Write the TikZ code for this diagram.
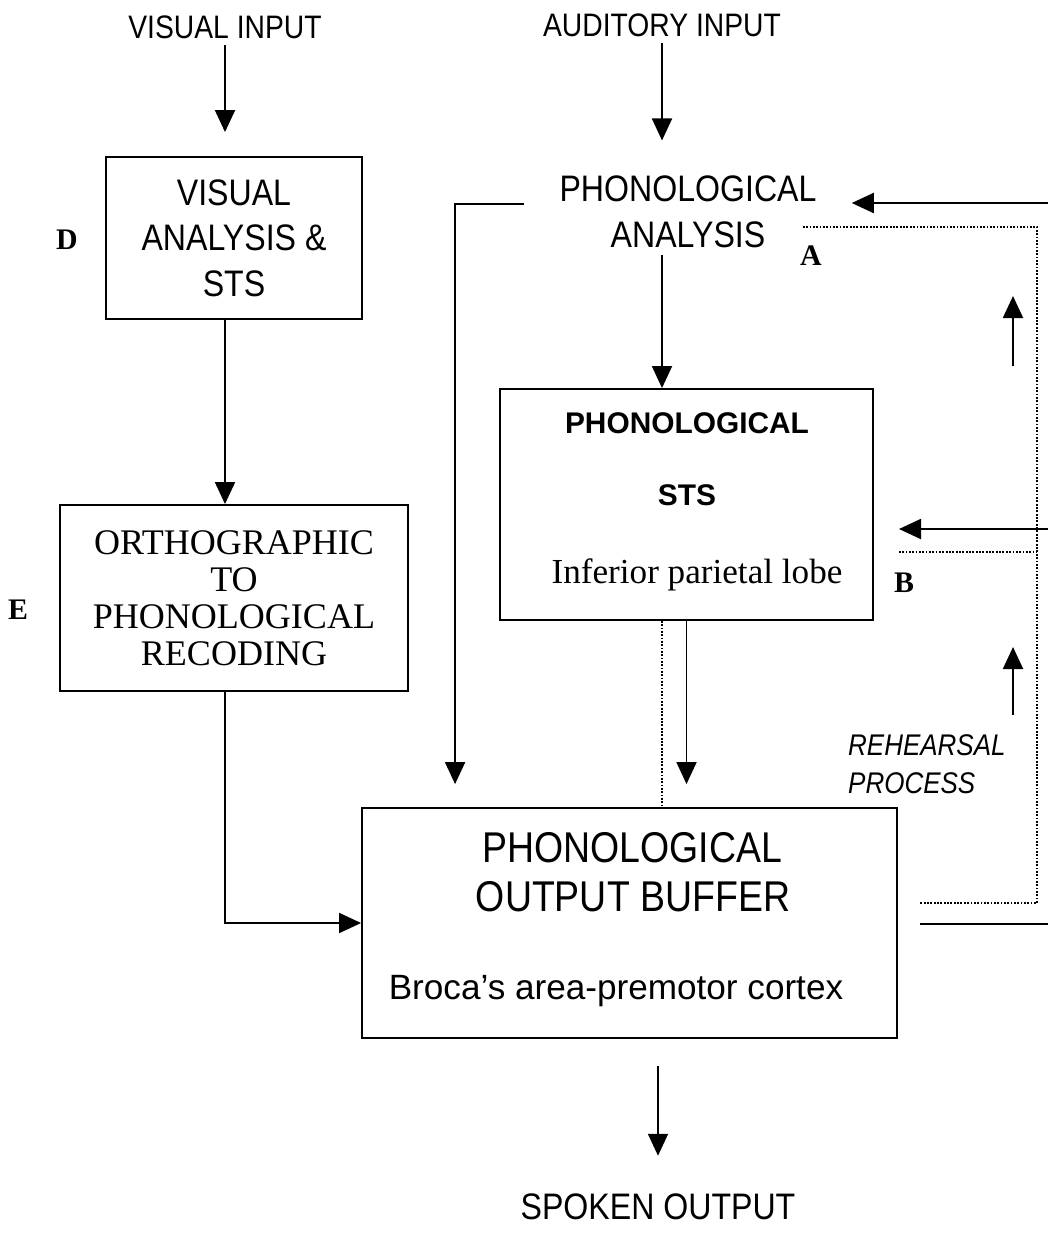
\documentclass[tikz,border=0pt]{standalone}
\usepackage{fontspec}
\setmainfont{Liberation Serif}
\newfontfamily\narrowsf[FakeStretch=0.87]{Liberation Sans}
\newfontfamily\plainsf{Liberation Sans}
\usetikzlibrary{arrows.meta,positioning}

\tikzset{
  arr/.style={-{Triangle[width=0.4cm,length=0.44cm]}, line width=1.1pt},
  dotline/.style={line width=1pt, dash pattern=on 1pt off 0.9pt},
  block/.style={draw, line width=1.1pt, align=center, inner sep=0pt},
  lbl/.style={font=\fontsize{18.5}{22}\narrowsf},
  letter/.style={font=\fontsize{17}{20}\selectfont\bfseries}
}

\begin{document}
\begin{tikzpicture}[x=0.02cm, y=-0.02cm]
    \useasboundingbox (0,0) rectangle (1048,1234);

    % Inputs
    \node[lbl] (visin) at (225,27) {VISUAL INPUT};
    \node[lbl] (audin) at (662,25) {AUDITORY INPUT};

    % Visual route
    \node[block, minimum width=5.12cm, minimum height=3.24cm,
          font=\fontsize{21}{26}\narrowsf] (visbox) at (234,238) {VISUAL\\ANALYSIS \&\\STS};
    \node[letter] (labD) at (67,240) {D};
    \node[block, minimum width=6.96cm, minimum height=3.72cm,
          font=\fontsize{20.5}{21}\selectfont] (orthobox) at (234,598) {ORTHOGRAPHIC\\TO\\PHONOLOGICAL\\RECODING};
    \node[letter] (labE) at (18,610) {E};

    % Auditory route
    \node[font=\fontsize{21}{26.5}\narrowsf, align=center, inner xsep=0.7cm] (phonan) at (688,212) {PHONOLOGICAL\\ANALYSIS};
    \node[letter] (labA) at (811,256) {A};

    \node[block, minimum width=7.46cm, minimum height=4.62cm] (stsbox) at (686.5,504.5) {};
    \node[font=\fontsize{17}{20}\plainsf\bfseries, anchor=base] (ststa) at (687,433) {PHONOLOGICAL};
    \node[font=\fontsize{17}{20}\plainsf\bfseries, anchor=base] (ststb) at (687,505) {STS};
    \node[font=\fontsize{20}{24}\selectfont, anchor=base] (ststc) at (697,583) {Inferior parietal lobe};
    \node[letter] (labB) at (904,583) {B};

    % Output buffer
    \node[block, minimum width=10.7cm, minimum height=4.6cm] (buffer) at (629.5,923) {};
    \node[font=\fontsize{24.5}{28}\narrowsf, anchor=base] (bufa) at (632,862) {PHONOLOGICAL};
    \node[font=\fontsize{24.5}{28}\narrowsf, anchor=base] (bufb) at (633,911) {OUTPUT BUFFER};
    \node[font=\fontsize{20}{24}\plainsf, anchor=base] (bufc) at (616,999) {Broca’s area-premotor cortex};

    \node[font=\fontsize{21}{25}\narrowsf] (spoken) at (658,1207) {SPOKEN OUTPUT};

    \node[font=\fontsize{17}{21.5}\narrowsf\itshape, align=left, anchor=west] (rehearse) at (842,764) {REHEARSAL\\PROCESS};

    % Connectors
    \draw[arr, shorten >=0.48cm] (visin) -- (visin |- visbox.north);
    \draw[arr] (visbox.south -| visin) -- (orthobox.north -| visin);
    \draw[arr] (orthobox.south -| visin) |- (buffer.west);

    \draw[arr, shorten >=0.58cm] (audin) -- (audin |- phonan.north);
    \draw[arr] (phonan.south -| audin) -- (audin |- stsbox.north);
    \draw[arr, shorten >=0.46cm] ([yshift=0.16cm]phonan.west) -| ([xshift=1.88cm]buffer.north west);
    \draw[arr, shorten >=0.46cm] (stsbox.south) -- (stsbox.south |- buffer.north);
    \draw[dotline] (stsbox.south -| audin) -- (audin |- buffer.north);

    \draw[arr, shorten <=0.54cm, shorten >=0.64cm] (buffer.south -| spoken) -- (spoken.north);

    % Rehearsal loop
    \coordinate (feedA) at (1048,203);
    \coordinate (feedB) at (1048,529);
    \coordinate (tipB) at (899,529);
    \coordinate (loopA) at (803,227);
    \coordinate (cornA) at (1037,227);
    \coordinate (cornO) at (1037,903);
    \coordinate (loopO) at (920,903);
    \coordinate (loopB) at (899,552);
    \coordinate (outL) at (920,924);
    \coordinate (outR) at (1048,924);

    \draw[arr] (feedA) -- (feedA -| phonan.east);
    \draw[arr] (feedB) -- (tipB);
    \draw[dotline] (loopA) -- (cornA) -- (cornO) -- (loopO);
    \draw[dotline] (loopB) -- (loopB -| cornA);
    \draw[line width=1.1pt] (outL) -- (outR);

    \coordinate (upa) at (1013,366);
    \coordinate (upb) at (1013,715);
    \draw[arr] (upa) -- ++(0,-70);
    \draw[arr] (upb) -- ++(0,-68);
\end{tikzpicture}
\end{document}
